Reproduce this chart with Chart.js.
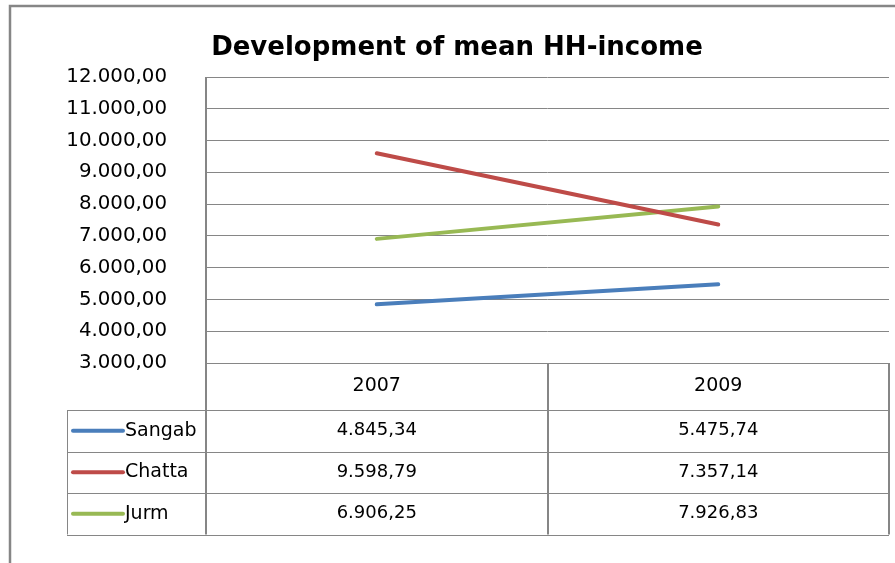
<!DOCTYPE html>
<html>
<head>
<title>Development of mean HH-income</title>
<script src="https://cdn.jsdelivr.net/npm/chart.js"></script>
<style>
  body { margin: 0; background: #fff; }
  canvas { display: block; }
</style>
</head>
<body>
<canvas id="chart" width="895" height="563"></canvas>
<script>
const years = ['2007', '2009'];
const sangab = [4845.34, 5475.74];
const chatta = [9598.79, 7357.14];
const jurm = [6906.25, 7926.83];
const seriesNames = ['Sangab', 'Chatta', 'Jurm'];
const seriesColors = ['#4a7ebb', '#be4b48', '#98b954'];
const yMin = 3000, yMax = 12000, yStep = 1000;

const FONT = '"DejaVu Sans", sans-serif';
const GRID = '#868686';

// 12000 -> "12.000,00"
function fmt(v) {
  const parts = v.toFixed(2).split('.');
  const whole = parts[0].replace(/\B(?=(\d{3})+(?!\d))/g, '.');
  return whole + ',' + parts[1];
}

// frame, title and the data table under the plot
const tablePlugin = {
  id: 'tablePlugin',
  beforeDraw(chart) {
    const ctx = chart.ctx;
    ctx.save();
    ctx.fillStyle = '#fff';
    ctx.fillRect(0, 0, chart.width, chart.height);
    ctx.restore();
  },
  afterDraw(chart) {
    const ctx = chart.ctx;
    const area = chart.chartArea;
    const xs = chart.scales.x;
    const rowH = 41.5;
    const catTop = area.bottom;
    const catBottom = catTop + 47;
    const tableBottom = catBottom + rowH * 3;
    const tableLeft = 67;
    const mid = (xs.getPixelForValue(0) + xs.getPixelForValue(1)) / 2;

    ctx.save();
    // outer frame
    ctx.strokeStyle = GRID;
    ctx.lineWidth = 2.5;
    ctx.strokeRect(10, 6, 1200, 1200);

    // title
    ctx.fillStyle = '#000';
    ctx.font = 'bold 26px ' + FONT;
    ctx.textAlign = 'center';
    ctx.textBaseline = 'middle';
    ctx.fillText('Development of mean HH-income', 457, 48);

    // table lines
    ctx.strokeStyle = GRID;
    ctx.lineWidth = 1;
    ctx.beginPath();
    for (let i = 0; i <= 3; i++) {
      const y = Math.round(catBottom + rowH * i) + 0.5;
      ctx.moveTo(tableLeft, y);
      ctx.lineTo(area.right, y);
    }
    ctx.moveTo(tableLeft + 0.5, catBottom);
    ctx.lineTo(tableLeft + 0.5, tableBottom);
    ctx.stroke();

    ctx.lineWidth = 2;
    ctx.beginPath();
    ctx.moveTo(area.left, area.top);
    ctx.lineTo(area.left, tableBottom);
    ctx.moveTo(Math.round(mid), catTop);
    ctx.lineTo(Math.round(mid), tableBottom);
    ctx.moveTo(area.right, catTop);
    ctx.lineTo(area.right, tableBottom);
    ctx.stroke();

    // category row
    ctx.fillStyle = '#000';
    ctx.font = '19px ' + FONT;
    years.forEach((yr, i) => {
      ctx.fillText(yr, xs.getPixelForValue(i), (catTop + catBottom) / 2);
    });

    // series rows
    const rows = [sangab, chatta, jurm];
    rows.forEach((vals, r) => {
      const cy = catBottom + rowH * r + rowH / 2;
      ctx.strokeStyle = seriesColors[r];
      ctx.lineWidth = 4;
      ctx.lineCap = 'round';
      ctx.beginPath();
      ctx.moveTo(73, cy);
      ctx.lineTo(123, cy);
      ctx.stroke();
      ctx.fillStyle = '#000';
      ctx.textAlign = 'left';
      ctx.font = '19px ' + FONT;
      ctx.fillText(seriesNames[r], 125, cy);
      ctx.textAlign = 'center';
      ctx.font = '18px ' + FONT;
      vals.forEach((v, i) => {
        ctx.fillText(fmt(v), xs.getPixelForValue(i), cy);
      });
    });
    ctx.restore();
  }
};

const ds = (label, data, color) => ({
  label: label,
  data: data,
  borderColor: color,
  backgroundColor: color,
  borderWidth: 4,
  borderCapStyle: 'round',
  pointRadius: 0,
  tension: 0
});

new Chart(document.getElementById('chart'), {
  type: 'line',
  data: {
    labels: years,
    datasets: [
      ds(seriesNames[0], sangab, seriesColors[0]),
      ds(seriesNames[1], chatta, seriesColors[1]),
      ds(seriesNames[2], jurm, seriesColors[2])
    ]
  },
  options: {
    responsive: false,
    animation: false,
    layout: { padding: { top: 77, right: 6, bottom: 200, left: 0 } },
    plugins: {
      legend: { display: false },
      title: { display: false },
      tooltip: { enabled: false }
    },
    scales: {
      x: {
        display: false,
        offset: true
      },
      y: {
        min: yMin,
        max: yMax,
        ticks: {
          stepSize: yStep,
          padding: 39,
          color: '#000',
          font: { family: FONT, size: 19.8 },
          callback: v => fmt(v)
        },
        grid: { color: GRID, lineWidth: 1, drawTicks: false },
        border: { display: false },
        afterFit: s => { s.width = 206; }
      }
    }
  },
  plugins: [tablePlugin]
});
</script>
</body>
</html>
